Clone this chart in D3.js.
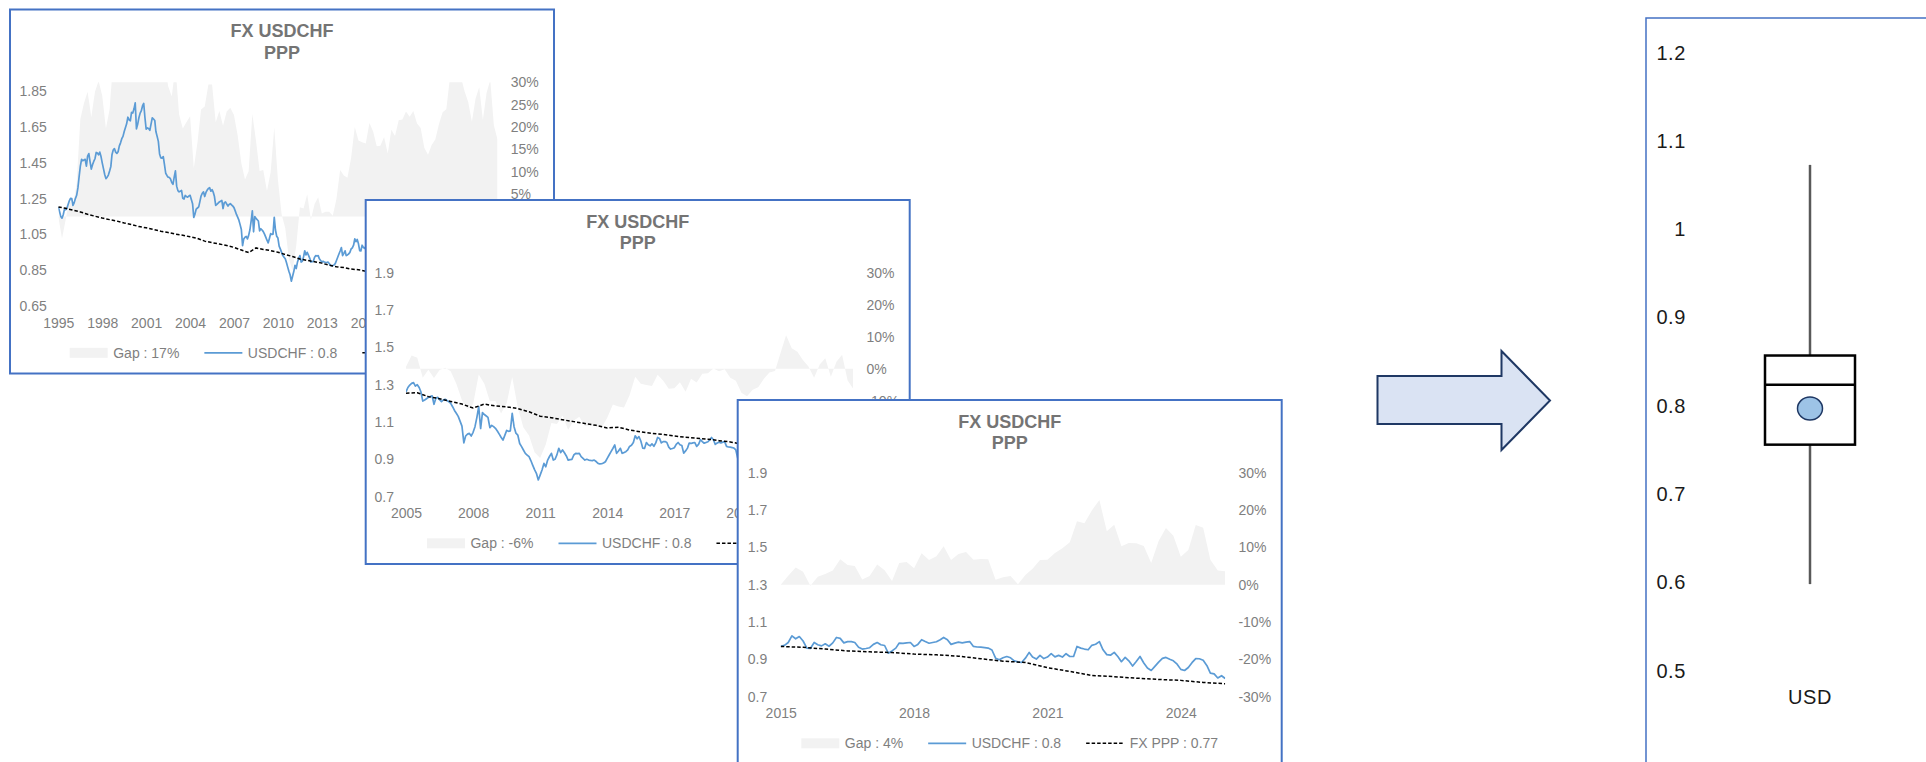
<!DOCTYPE html>
<html>
<head>
<meta charset="utf-8">
<script src="https://cdn.jsdelivr.net/npm/d3@7"></script>
<style>
  html, body { margin: 0; padding: 0; background: #ffffff; }
  svg { display: block; font-family: "Liberation Sans", Arial, sans-serif; }
</style>
</head>
<body>
<svg id="chart" width="1926" height="762"></svg>
<script>
// USDCHF, monthly, July 1995 to July 2025
const usdchf = [
  1.204,1.178,1.150,1.141,1.160,1.190,1.188,1.196,1.218,1.238,1.252,1.250,
  1.212,1.228,1.252,1.269,1.310,1.372,1.432,1.470,1.462,1.466,1.470,1.432,
  1.488,1.502,1.455,1.415,1.440,1.458,1.473,1.508,1.505,1.495,1.510,1.485,
  1.450,1.418,1.385,1.362,1.370,1.382,1.405,1.430,1.495,1.522,1.530,1.510,
  1.503,1.512,1.545,1.562,1.585,1.598,1.625,1.648,1.668,1.705,1.690,1.685,
  1.732,1.728,1.752,1.785,1.640,1.665,1.702,1.728,1.740,1.768,1.782,1.702,
  1.638,1.645,1.642,1.632,1.668,1.702,1.695,1.687,1.625,1.598,1.570,1.500,
  1.478,1.476,1.485,1.440,1.392,1.380,1.370,1.368,1.360,1.340,1.330,1.370,
  1.405,1.320,1.295,1.288,1.292,1.296,1.252,1.248,1.268,1.262,1.258,1.265,
  1.269,1.245,1.222,1.145,1.165,1.192,1.198,1.204,1.232,1.265,1.280,1.288,
  1.262,1.285,1.298,1.307,1.311,1.292,1.300,1.285,1.262,1.212,1.218,1.225,
  1.232,1.236,1.240,1.195,1.228,1.232,1.220,1.209,1.218,1.222,1.215,1.209,
  1.200,1.182,1.162,1.147,1.130,1.105,1.078,0.988,1.025,1.035,1.039,1.025,
  1.045,1.075,1.125,1.182,1.065,1.150,1.140,1.132,1.125,1.070,1.082,1.075,
  1.066,1.052,1.035,1.018,1.003,1.028,1.055,1.050,1.052,1.146,1.075,1.040,
  1.030,0.985,0.968,0.950,0.932,0.923,0.914,0.892,0.869,0.845,0.825,0.789,
  0.815,0.843,0.878,0.860,0.896,0.915,0.932,0.896,0.900,0.925,0.959,0.936,
  0.950,0.935,0.918,0.896,0.898,0.900,0.923,0.932,0.930,0.932,0.914,0.905,
  0.896,0.900,0.896,0.894,0.893,0.896,0.888,0.878,0.875,0.876,0.880,0.887,
  0.905,0.923,0.941,0.958,0.977,0.932,0.945,0.959,0.932,0.936,0.941,0.950,
  0.969,0.975,0.990,1.026,1.010,1.022,0.998,0.960,0.958,0.990,0.978,0.972,
  0.983,0.970,0.988,1.017,1.012,0.988,0.995,0.995,0.990,0.965,0.955,0.958,
  0.962,0.980,0.990,0.978,0.974,0.933,0.945,0.960,0.987,0.985,0.988,0.990,
  0.969,0.980,1.005,0.995,0.986,0.990,0.994,1.005,1.017,1.005,0.980,0.987,
  0.992,0.988,0.992,0.995,0.969,0.966,0.965,0.963,0.960,0.950,0.906,0.898,
  0.908,0.915,0.908,0.892,0.886,0.883,0.906,0.937,0.912,0.901,0.921,0.904,
  0.912,0.930,0.913,0.921,0.912,0.930,0.915,0.915,0.969,0.960,0.955,0.951,
  0.975,0.981,0.995,0.951,0.925,0.922,0.937,0.914,0.887,0.910,0.892,0.864,
  0.888,0.915,0.880,0.853,0.840,0.862,0.885,0.905,0.910,0.900,0.892,0.874,
  0.846,0.840,0.856,0.882,0.904,0.903,0.895,0.866,0.826,0.822,0.800,0.812,
  0.797
];

// PPP fair value, re-based on each start year, one point every six months
const pppFrom1995 = [
  1.204,1.196,1.186,1.176,1.163,1.152,1.142,1.133,1.125,1.114,
  1.106,1.094,1.087,1.078,1.068,1.061,1.052,1.046,1.037,1.028,
  1.013,1.004,0.997,0.988,0.978,0.963,0.949,0.975,0.966,0.960,
  0.951,0.938,0.927,0.913,0.905,0.898,0.890,0.878,0.870,0.865,
  0.857,0.853,0.845,0.836,0.831,0.828,0.821,0.817,0.811,0.799,
  0.787,0.781,0.756,0.738,0.719,0.714,0.707,0.700,0.696,0.686,
  0.680
];
const pppFrom2005 = [
  1.254,1.257,1.236,1.225,1.210,1.196,1.175,1.196,1.186,1.181,
  1.172,1.155,1.131,1.123,1.112,1.102,1.092,1.082,1.068,1.072,
  1.057,1.047,1.039,1.034,1.025,1.018,1.013,1.008,1.000,0.993,
  0.982,0.970,0.942,0.921,0.898,0.890,0.882,0.874,0.868,0.857,
  0.851
];
const pppFrom2015 = [
  0.969,0.964,0.955,0.945,0.940,0.936,0.928,0.924,0.917,0.903,
  0.890,0.883,0.855,0.835,0.813,0.807,0.799,0.792,0.787,0.776,
  0.769
];

// Gap of spot vs PPP: quarterly for the 1995 and 2005 bases, every two months for 2015
const gapFrom1995 = [
  0.000,-0.049,-0.007,0.039,0.022,0.075,0.218,0.253,0.279,0.222,
  0.279,0.303,0.270,0.197,0.240,0.348,0.336,0.395,0.459,0.536,
  0.566,0.623,0.556,0.621,0.507,0.507,0.572,0.489,0.384,0.352,
  0.291,0.268,0.336,0.228,0.197,0.211,0.224,0.108,0.165,0.239,
  0.246,0.295,0.295,0.211,0.236,0.203,0.235,0.243,0.227,0.181,
  0.119,0.083,0.101,0.229,0.169,0.102,0.104,0.057,0.099,0.199,
  0.083,0.005,-0.026,-0.094,-0.121,-0.065,0.021,0.018,0.050,-0.007,
  0.028,0.043,0.007,0.011,0.011,0.002,0.040,0.104,0.092,0.087,
  0.131,0.200,0.170,0.166,0.163,0.209,0.190,0.157,0.158,0.178,
  0.141,0.194,0.180,0.215,0.217,0.235,0.223,0.236,0.208,0.198,
  0.154,0.138,0.160,0.172,0.206,0.233,0.240,0.310,0.356,0.326,
  0.312,0.280,0.256,0.212,0.264,0.289,0.216,0.276,0.305,0.204,
  0.172
];
const gapFrom2005 = [
  0.006,0.041,0.034,-0.028,-0.003,-0.029,-0.004,0.003,-0.008,-0.047,
  -0.099,-0.127,-0.111,-0.018,-0.047,-0.102,-0.101,-0.140,-0.107,-0.026,
  -0.121,-0.184,-0.209,-0.261,-0.279,-0.237,-0.170,-0.173,-0.146,-0.191,
  -0.162,-0.150,-0.179,-0.178,-0.179,-0.185,-0.153,-0.112,-0.118,-0.121,
  -0.083,-0.025,-0.047,-0.051,-0.054,-0.019,-0.038,-0.063,-0.061,-0.042,
  -0.072,-0.031,-0.043,-0.016,-0.014,0.001,-0.008,-0.002,-0.028,-0.038,
  -0.075,-0.086,-0.066,-0.058,-0.032,-0.012,-0.007,0.049,0.105,0.064,
  0.053,0.027,0.007,-0.028,0.013,0.033,-0.025,0.022,0.044,-0.037,
  -0.063
];
const gapFrom2015 = [
  0.000,0.024,0.046,0.035,-0.003,0.021,0.029,0.038,0.068,0.053,
  0.050,0.014,0.023,0.054,0.039,0.010,0.058,0.061,0.044,0.084,
  0.066,0.076,0.103,0.066,0.082,0.088,0.067,0.069,0.068,0.013,
  0.020,0.023,0.001,0.026,0.043,0.066,0.067,0.085,0.098,0.114,
  0.170,0.165,0.199,0.227,0.143,0.161,0.103,0.112,0.111,0.104,
  0.058,0.117,0.152,0.131,0.075,0.093,0.160,0.153,0.067,0.038,
  0.036
];

// Axis ticks and labels for each window
const fxTicks1995 = [0.65, 0.85, 1.05, 1.25, 1.45, 1.65, 1.85];
const fxTicks2005 = [0.7, 0.9, 1.1, 1.3, 1.5, 1.7, 1.9];
const fxTicks2015 = [0.7, 0.9, 1.1, 1.3, 1.5, 1.7, 1.9];
const gapTicks1995 = [-0.20, -0.15, -0.10, -0.05, 0, 0.05, 0.10, 0.15, 0.20, 0.25, 0.30];
const gapTicks2005 = [-0.4, -0.3, -0.2, -0.1, 0, 0.1, 0.2, 0.3];
const gapTicks2015 = [-0.3, -0.2, -0.1, 0, 0.1, 0.2, 0.3];
const years1995 = [1995, 1998, 2001, 2004, 2007, 2010, 2013, 2016, 2019, 2022, 2025];
const years2005 = [2005, 2008, 2011, 2014, 2017, 2020, 2023];
const years2015 = [2015, 2018, 2021, 2024];
const legend1995 = ["Gap : 17%", "USDCHF : 0.8", "FX PPP : 0.68"];
const legend2005 = ["Gap : -6%", "USDCHF : 0.8", "FX PPP : 0.85"];
const legend2015 = ["Gap : 4%", "USDCHF : 0.8", "FX PPP : 0.77"];

// Distribution of the rate (box) and latest level (dot)
const boxCategories = ["USD"];
const boxLow = [0.598];
const boxQ1 = [0.756];
const boxMedian = [0.824];
const boxQ3 = [0.857];
const boxHigh = [1.073];
const boxLatest = [0.797];
const boxTicks = [1.2, 1.1, 1, 0.9, 0.8, 0.7, 0.6, 0.5];

// ---------------------------------------------------------------------------
const svg = d3.select("#chart");
const seriesStart = new Date(1995, 6, 1);
const monthAt = i => d3.timeMonth.offset(seriesStart, i);

const FRAME_W = 544, FRAME_H = 364;
const PLOT_TOP = 72.8, PLOT_BOTTOM = 296.6, PLOT_RIGHT = 487.5;
const FRAME_BLUE = "#4472c4";
const TICK_GREY = "#7f7f7f";
const TITLE_GREY = "#747474";
const LINE_BLUE = "#5b9bd5";
const AREA_GREY = "#f2f2f2";
const FONT = 14;
const pct = v => Math.round(v * 100) + "%";

const windows = [
  { key: "w1995", origin: [10, 9.5], first: 0, plotLeft: 48.3, labelRight: 36.7,
    fxDomain: [0.65, 1.9], fxTicks: fxTicks1995, fxFormat: d3.format(".2f"),
    gapDomain: [-0.2, 0.3], gapTicks: gapTicks1995,
    ppp: pppFrom1995, gap: gapFrom1995, gapStep: 3, years: years1995, legend: legend1995 },
  { key: "w2005", origin: [365.7, 200], first: 120, plotLeft: 40.3, labelRight: 28.3,
    fxDomain: [0.7, 1.9], fxTicks: fxTicks2005, fxFormat: d3.format(".1f"),
    gapDomain: [-0.4, 0.3], gapTicks: gapTicks2005,
    ppp: pppFrom2005, gap: gapFrom2005, gapStep: 3, years: years2005, legend: legend2005 },
  { key: "w2015", origin: [737.7, 400], first: 240, plotLeft: 43.0, labelRight: 29.5,
    fxDomain: [0.7, 1.9], fxTicks: fxTicks2015, fxFormat: d3.format(".1f"),
    gapDomain: [-0.3, 0.3], gapTicks: gapTicks2015,
    ppp: pppFrom2015, gap: gapFrom2015, gapStep: 2, years: years2015, legend: legend2015 }
];

function styleAxis(sel) {
  sel.select(".domain").remove();
  sel.selectAll(".tick line").remove();
  sel.attr("font-size", FONT).attr("font-family", null).attr("color", TICK_GREY);
}

windows.forEach(w => {
  const g = svg.append("g").attr("transform", `translate(${w.origin[0]},${w.origin[1]})`);

  g.append("rect")
    .attr("width", FRAME_W).attr("height", FRAME_H)
    .attr("fill", "#ffffff").attr("stroke", FRAME_BLUE).attr("stroke-width", 2);

  const lastIndex = usdchf.length - 1;
  const x = d3.scaleTime().domain([monthAt(w.first), monthAt(lastIndex)]).range([w.plotLeft, PLOT_RIGHT]);
  const y = d3.scaleLinear().domain(w.fxDomain).range([PLOT_BOTTOM, PLOT_TOP]);
  const yGap = d3.scaleLinear().domain(w.gapDomain).range([PLOT_BOTTOM, PLOT_TOP]);

  const clipId = "clip-" + w.key;
  g.append("clipPath").attr("id", clipId).append("rect")
    .attr("x", w.plotLeft).attr("y", PLOT_TOP)
    .attr("width", PLOT_RIGHT - w.plotLeft).attr("height", PLOT_BOTTOM - PLOT_TOP);

  const plot = g.append("g").attr("clip-path", `url(#${clipId})`);

  // gap area
  const gapPts = w.gap.map((v, i) => ({ d: monthAt(w.first + i * w.gapStep), v }));
  plot.append("path").datum(gapPts)
    .attr("fill", AREA_GREY)
    .attr("d", d3.area().x(d => x(d.d)).y0(yGap(0)).y1(d => yGap(d.v)));

  // spot rate
  const fxPts = usdchf.slice(w.first).map((v, i) => ({ d: monthAt(w.first + i), v }));
  plot.append("path").datum(fxPts)
    .attr("fill", "none").attr("stroke", LINE_BLUE).attr("stroke-width", 1.7)
    .attr("stroke-linejoin", "round")
    .attr("d", d3.line().x(d => x(d.d)).y(d => y(d.v)));

  // PPP path
  const pppPts = w.ppp.map((v, i) => ({ d: monthAt(w.first + i * 6), v }));
  plot.append("path").datum(pppPts)
    .attr("fill", "none").attr("stroke", "#000000").attr("stroke-width", 1.5)
    .attr("stroke-dasharray", "3.5,2")
    .attr("d", d3.line().x(d => x(d.d)).y(d => y(d.v)));

  // axes
  g.append("g").attr("transform", `translate(${w.labelRight},0)`)
    .call(d3.axisLeft(y).tickValues(w.fxTicks).tickFormat(w.fxFormat).tickSize(0).tickPadding(0))
    .call(styleAxis);
  g.append("g").attr("transform", `translate(500.7,0)`)
    .call(d3.axisRight(yGap).tickValues(w.gapTicks).tickFormat(pct).tickSize(0).tickPadding(0))
    .call(styleAxis);
  g.append("g").attr("transform", `translate(0,308.2)`)
    .call(d3.axisBottom(x).tickValues(w.years.map(yr => new Date(yr, 6, 1)))
      .tickFormat(d3.timeFormat("%Y")).tickSize(0).tickPadding(0))
    .call(styleAxis);

  // title
  const title = g.append("g").attr("fill", TITLE_GREY).attr("font-weight", "bold")
    .attr("font-size", 18).attr("text-anchor", "middle");
  title.append("text").attr("x", FRAME_W / 2).attr("y", 27.8).text("FX USDCHF");
  title.append("text").attr("x", FRAME_W / 2).attr("y", 49.3).text("PPP");

  // legend
  const lg = g.append("g").attr("font-size", FONT).attr("fill", TICK_GREY);
  const cy = 343.3;
  let cursor = 0;
  w.legend.forEach((label, i) => {
    if (i === 0) {
      lg.append("rect").attr("x", cursor).attr("y", cy - 5).attr("width", 38).attr("height", 10)
        .attr("fill", AREA_GREY);
    } else {
      lg.append("line").attr("x1", cursor).attr("x2", cursor + 38).attr("y1", cy).attr("y2", cy)
        .attr("stroke", i === 1 ? LINE_BLUE : "#000000")
        .attr("stroke-width", i === 1 ? 1.7 : 1.5)
        .attr("stroke-dasharray", i === 1 ? null : "3.5,2");
    }
    cursor += 38 + 5.5;
    const t = lg.append("text").attr("x", cursor).attr("y", cy + 4.9).text(label);
    cursor += t.node().getComputedTextLength() + 25;
  });
  const legendWidth = cursor - 25;
  lg.attr("transform", `translate(${(FRAME_W - legendWidth) / 2},0)`);
});

// ---------------------------------------------------------------------------
// arrow between the windows and the distribution
const arrowPts = [[1377.5, 376], [1501.5, 376], [1501.5, 351], [1550, 400.5],
                  [1501.5, 450], [1501.5, 424], [1377.5, 424]];
svg.append("polygon")
  .attr("points", arrowPts.map(p => p.join(",")).join(" "))
  .attr("fill", "#dae3f3").attr("stroke", "#1f3864").attr("stroke-width", 2)
  .attr("stroke-linejoin", "miter");

// box panel
const bp = svg.append("g");
bp.append("rect").attr("x", 1646).attr("y", 18).attr("width", 400).attr("height", 800)
  .attr("fill", "#ffffff").attr("stroke", FRAME_BLUE).attr("stroke-width", 1.5);

const by = d3.scaleLinear().domain([0.5, 1.2]).range([670.6, 52.8]);
const bx = d3.scaleBand().domain(boxCategories).range([1720, 1900]).paddingInner(0).paddingOuter(0.5);

bp.append("g").attr("transform", "translate(1686,0)")
  .call(d3.axisLeft(by).tickValues(boxTicks).tickFormat(d => String(d)).tickSize(0).tickPadding(0))
  .call(sel => {
    sel.select(".domain").remove();
    sel.attr("font-size", 20).attr("font-family", null).attr("color", "#1a1a1a")
      .attr("letter-spacing", 0.6);
  });

boxCategories.forEach((cat, i) => {
  const x0 = bx(cat), bw = bx.bandwidth(), xc = x0 + bw / 2;
  bp.append("line").attr("x1", xc).attr("x2", xc).attr("y1", by(boxHigh[i])).attr("y2", by(boxQ3[i]))
    .attr("stroke", "#595959").attr("stroke-width", 2.5);
  bp.append("line").attr("x1", xc).attr("x2", xc).attr("y1", by(boxQ1[i])).attr("y2", by(boxLow[i]))
    .attr("stroke", "#595959").attr("stroke-width", 2.5);
  bp.append("rect").attr("x", x0).attr("y", by(boxQ3[i]))
    .attr("width", bw).attr("height", by(boxQ1[i]) - by(boxQ3[i]))
    .attr("fill", "#ffffff").attr("stroke", "#000000").attr("stroke-width", 2.5);
  bp.append("line").attr("x1", x0).attr("x2", x0 + bw).attr("y1", by(boxMedian[i])).attr("y2", by(boxMedian[i]))
    .attr("stroke", "#000000").attr("stroke-width", 2.5);
  bp.append("ellipse").attr("cx", xc).attr("cy", by(boxLatest[i])).attr("rx", 12.5).attr("ry", 11.5)
    .attr("fill", "#9dc3e6").attr("stroke", "#1f3864").attr("stroke-width", 1.5);
  bp.append("text").attr("x", xc).attr("y", 703.5).attr("text-anchor", "middle")
    .attr("font-size", 20).attr("fill", "#1a1a1a").attr("letter-spacing", 0.6).text(cat);
});
</script>
</body>
</html>
